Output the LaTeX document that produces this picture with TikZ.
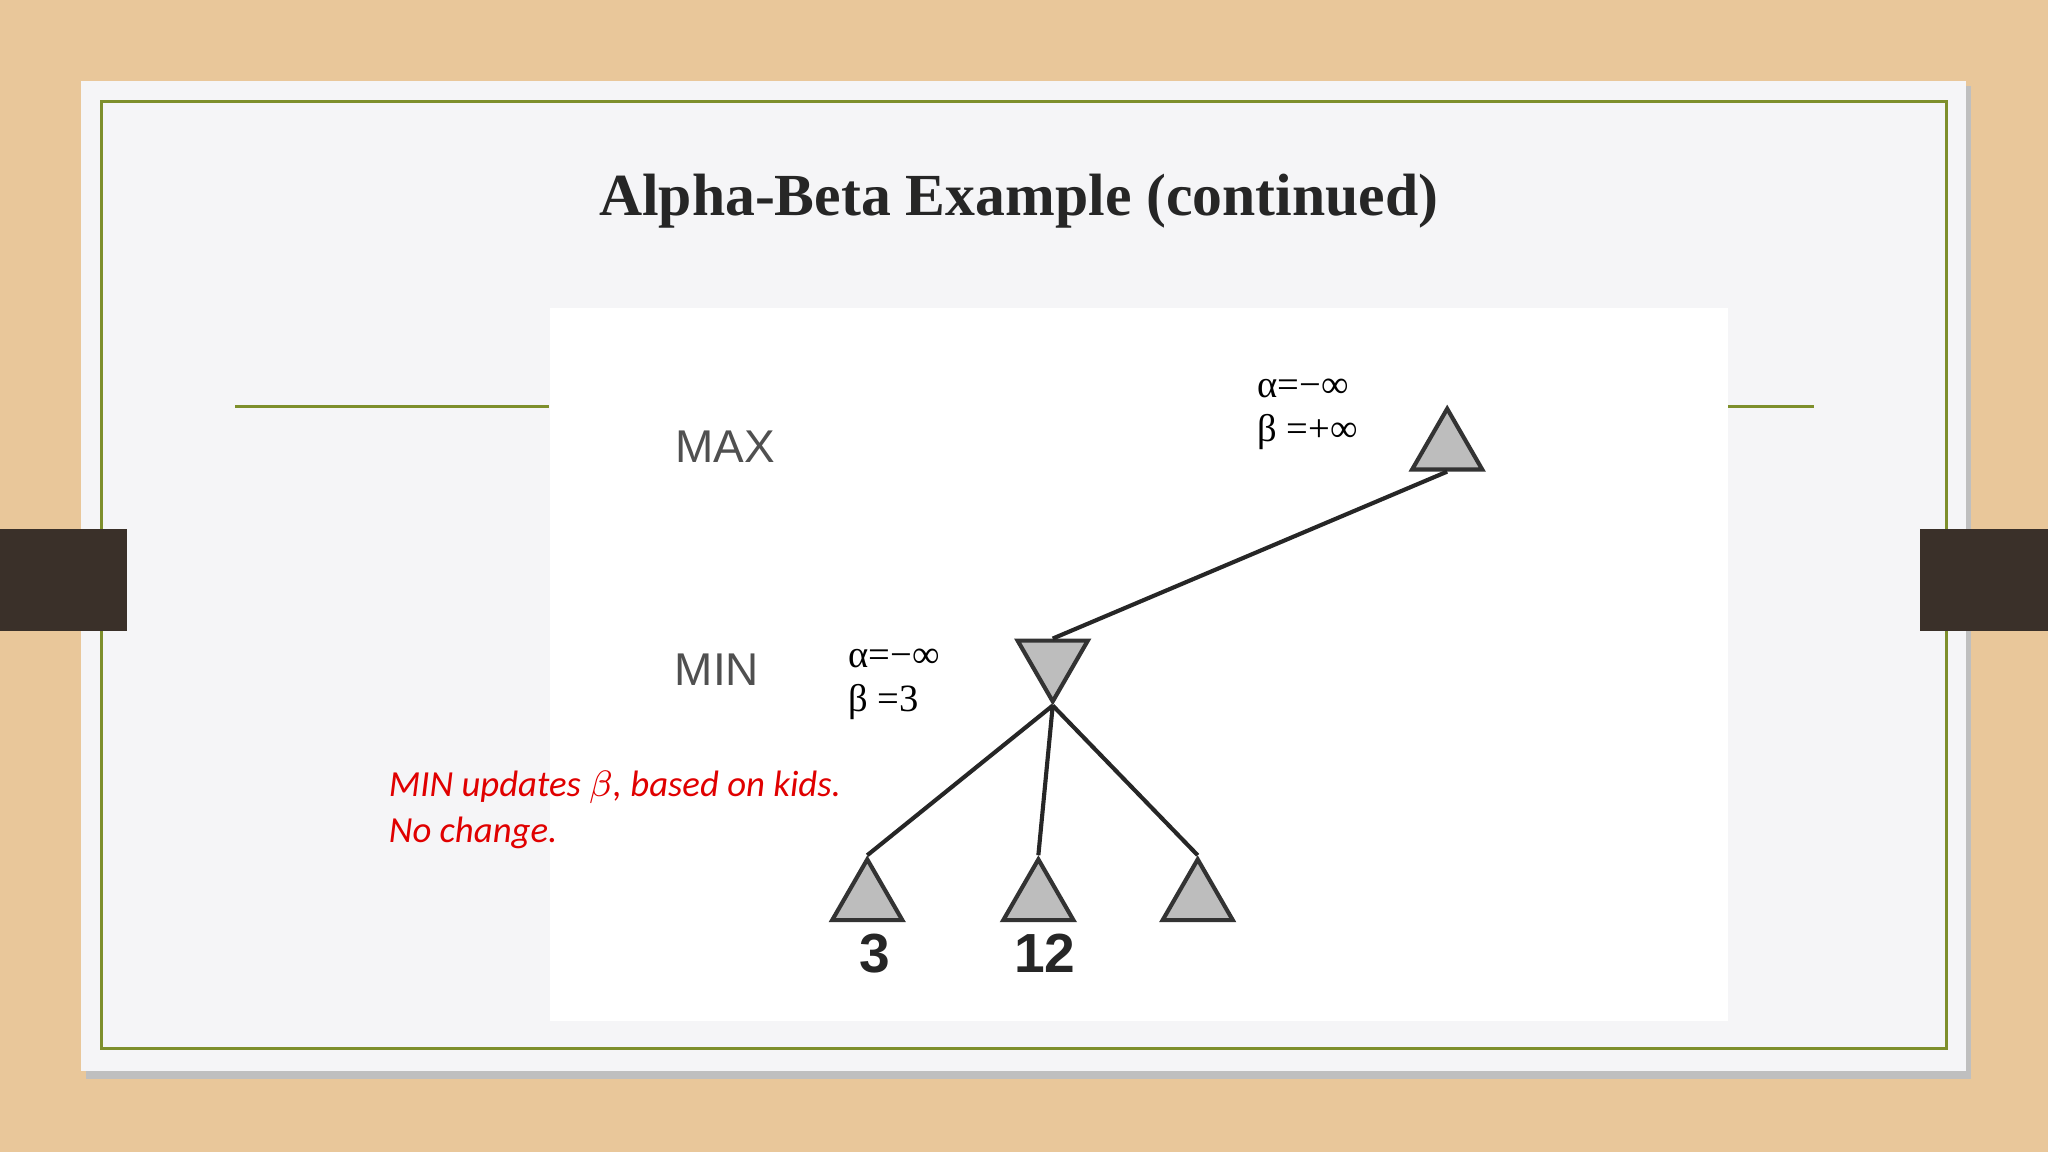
\documentclass[tikz,border=0pt]{standalone}
\usepackage{fontspec}
\setmainfont{Liberation Serif}
\newfontfamily\armfont{Liberation Sans}
\newfontfamily\calfont{Carlito}
\usetikzlibrary{shapes.geometric}
\definecolor{wood}{HTML}{E9C79A}
\definecolor{slide}{HTML}{F5F5F7}
\definecolor{olive}{HTML}{7E8F2C}
\definecolor{tab}{HTML}{3A3029}
\definecolor{nodegray}{HTML}{BDBDBD}
\definecolor{labgray}{HTML}{505050}
\definecolor{noteRed}{HTML}{E00000}

\begin{document}
\begin{tikzpicture}
[
    x=0.01cm, y=-0.01cm,
    maxnode/.style={regular polygon, regular polygon sides=3, minimum size=0.62cm,
        inner sep=0pt, fill=nodegray, draw=black!80, line width=0.9pt},
    minnode/.style={maxnode, shape border rotate=180},
    edge/.style={draw=black!85, line width=0.9pt},
    level/.style={font=\armfont\fontsize{10}{12}\selectfont, text=labgray},
    ab/.style={font=\fontsize{8.4}{10.5}\selectfont, align=left, anchor=west, inner sep=0pt},
    leaf/.style={font=\armfont\bfseries\fontsize{12}{14}\selectfont, text=black!85},
]
\useasboundingbox (0,0) rectangle (1568,882);
\fill[wood] (0,0) rectangle (1568,882);
\fill[black!25] (66,66) rectangle (1509,826);
\fill[slide] (62,62) rectangle (1505,820);
\draw[olive, line width=0.7pt] (78,78) rectangle (1490,803);
\fill[tab] (0,405) rectangle (97,483);
\fill[tab] (1470,405) rectangle (1568,483);
\draw[olive, line width=0.7pt] (180,311) -- (420,311);
\draw[olive, line width=0.7pt] (1323,311) -- (1389,311);
\fill[white] (421,236) rectangle (1323,782);

\node[text=black!85] (title) at (780,154) {\bfseries\fontsize{13}{16}\selectfont Alpha-Beta Example (continued)};

\node[level] (maxlab) at (555,342) {MAX};
\node[level] (minlab) at (549,513) {MIN};

% tree
\node[maxnode] (root) at (1108,344) {};
\node[minnode] (mid) at (806,506) {};
\node[maxnode] (leafa) at (664,689) {};
\node[maxnode] (leafb) at (795,689) {};
\node[maxnode] (leafc) at (917,689) {};

\draw[edge] (root.side 2) -- (mid.side 2);
\draw[edge] (mid.corner 1) -- (leafa.corner 1);
\draw[edge] (mid.corner 1) -- (leafb.corner 1);
\draw[edge] (mid.corner 1) -- (leafc.corner 1);

\node[leaf] (vala) at (670,730) {3};
\node[leaf] (valb) at (800,730) {12};

\node[ab] (rootab) at (962,317) {α=−∞\\[-1pt]β =+∞};
\node[ab] (midab) at (649,524) {α=−∞\\[-1pt]β =3};

\node[anchor=west, inner sep=0pt, align=left, text=noteRed,
      font=\calfont\itshape\fontsize{8}{10}\selectfont] (note) at (297,620)
      {MIN updates $\beta$, based on kids.\\No change.};
\end{tikzpicture}
\end{document}
